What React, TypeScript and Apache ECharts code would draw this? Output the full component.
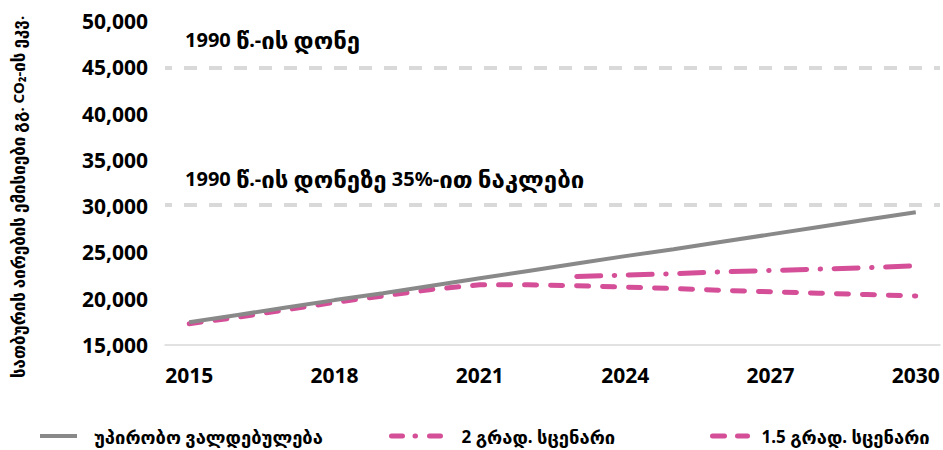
import React, { useEffect, useRef } from "react";
import * as echarts from "echarts";

const years = ["2015","2016","2017","2018","2019","2020","2021","2022","2023","2024","2025","2026","2027","2028","2029","2030"];
const unconditional = [17450, 18250, 19050, 19850, 20600, 21400, 22200, 23000, 23800, 24600, 25350, 26150, 26950, 27750, 28550, 29350];
const scenario2 = [null, null, null, null, null, null, null, null, 22400, 22550, 22700, 22900, 23050, 23200, 23350, 23550];
const scenario15 = [17300, 18000, 18800, 19600, 20300, 21000, 21500, 21500, 21400, 21250, 21100, 20900, 20750, 20600, 20450, 20300];
const level1990 = 45000;
const level1990minus35 = 30200;
const yTicks = { min: 15000, max: 50000, interval: 5000 };

const names = ["უპირობო ვალდებულება", "2 გრად. სცენარი", "1.5 გრად. სცენარი"];
const yTitle = "სათბურის აირების ემისიები გგ. CO₂-ის ეკვ.";
const note1 = "1990 წ.-ის დონე";
const note2 = "1990 წ.-ის დონეზე 35%-ით ნაკლები";

const FONT = "'Noto Sans', 'DejaVu Sans', sans-serif";
const PINK = "#D44F97";
const GRAY = "#898989";

const geo = (s: string) => s.replace(/([\u10A0-\u10FF]+)/g, "{g|$1}");
const richFor = (size: number, scale: number) => ({
  g: { fontFamily: FONT, fontWeight: "bold", fontSize: Math.round(size * scale * 10) / 10, color: "#000" },
});

export default function App() {
  const ref = useRef<HTMLDivElement>(null);
  useEffect(() => {
    const chart = echarts.init(ref.current!, undefined, { renderer: "svg" });
    const legendText = (pad: number) => ({
      fontFamily: FONT,
      fontWeight: "bold",
      fontSize: 17,
      color: "#000",
      padding: [0, 0, 0, pad],
      rich: richFor(17, 1.08),
    });
    const legendCommon = {
      top: 427,
      itemHeight: 14,
      padding: 0,
      itemStyle: { opacity: 0 },
      formatter: (n: string) => geo(n),
    };
    chart.setOption({
      animation: false,
      grid: { left: 165, right: 3, top: 21, bottom: 105, containLabel: false },
      xAxis: {
        type: "category",
        data: years,
        boundaryGap: true,
        axisLine: { show: true, lineStyle: { color: "#D9D9D9", width: 1.5 } },
        axisTick: { show: false },
        axisLabel: {
          interval: 2,
          margin: 19,
          fontFamily: FONT,
          fontWeight: "bold",
          fontSize: 21,
          color: "#000",
        },
      },
      yAxis: {
        type: "value",
        min: yTicks.min,
        max: yTicks.max,
        interval: yTicks.interval,
        axisLine: { show: false },
        axisTick: { show: false },
        splitLine: { show: false },
        axisLabel: {
          margin: 17,
          fontFamily: FONT,
          fontWeight: "bold",
          fontSize: 21,
          color: "#000",
          formatter: (v: number) => v.toLocaleString("en-US"),
        },
      },
      legend: [
        {
          ...legendCommon,
          data: [names[0]],
          left: 38,
          itemWidth: 37,
          textStyle: legendText(12),
          lineStyle: { width: 4 },
        },
        {
          ...legendCommon,
          data: [names[1]],
          left: 389,
          itemWidth: 51,
          textStyle: legendText(14),
          lineStyle: { width: 5, type: [11, 12.5, 0.5, 14], cap: "round" },
        },
        {
          ...legendCommon,
          data: [names[2]],
          left: 710,
          itemWidth: 35,
          textStyle: legendText(9),
          lineStyle: { width: 5, type: [12, 13], cap: "round" },
        },
      ],
      graphic: [
        {
          type: "text",
          left: 185,
          top: 27,
          style: { text: geo(note1), rich: richFor(20, 1.2), fontFamily: FONT, fontWeight: "bold", fontSize: 20, fill: "#000" },
        },
        {
          type: "text",
          left: 185,
          top: 166,
          style: { text: geo(note2), rich: richFor(20, 1.2), fontFamily: FONT, fontWeight: "bold", fontSize: 20, fill: "#000" },
        },
        {
          type: "text",
          x: 18,
          y: 197,
          rotation: Math.PI / 2,
          style: {
            text: geo(yTitle),
            rich: richFor(15, 1.13),
            fontFamily: FONT,
            fontWeight: "bold",
            fontSize: 15,
            fill: "#000",
            align: "center",
            verticalAlign: "middle",
          },
        },
      ],
      series: [
        {
          name: names[2],
          type: "line",
          data: scenario15,
          symbol: "none",
          z: 2,
          lineStyle: { color: PINK, width: 5, type: [12, 14], cap: "round" },
          itemStyle: { color: PINK },
        },
        {
          name: names[1],
          type: "line",
          data: scenario2,
          symbol: "none",
          z: 2,
          lineStyle: { color: PINK, width: 5, type: [24, 13.5, 0.5, 13.5], cap: "round" },
          itemStyle: { color: PINK },
        },
        {
          name: names[0],
          type: "line",
          data: unconditional,
          symbol: "none",
          z: 3,
          lineStyle: { color: GRAY, width: 4 },
          itemStyle: { color: GRAY },
          markLine: {
            silent: true,
            symbol: "none",
            label: { show: false },
            lineStyle: { color: "#D9D9D9", width: 4, type: [13, 12], dashOffset: 6 },
            data: [{ yAxis: level1990 }, { yAxis: level1990minus35 }],
          },
        },
      ],
    });
    return () => chart.dispose();
  }, []);
  return <div ref={ref} style={{ width: 943, height: 450, position: "absolute", left: 0, top: 0 }} />;
}
